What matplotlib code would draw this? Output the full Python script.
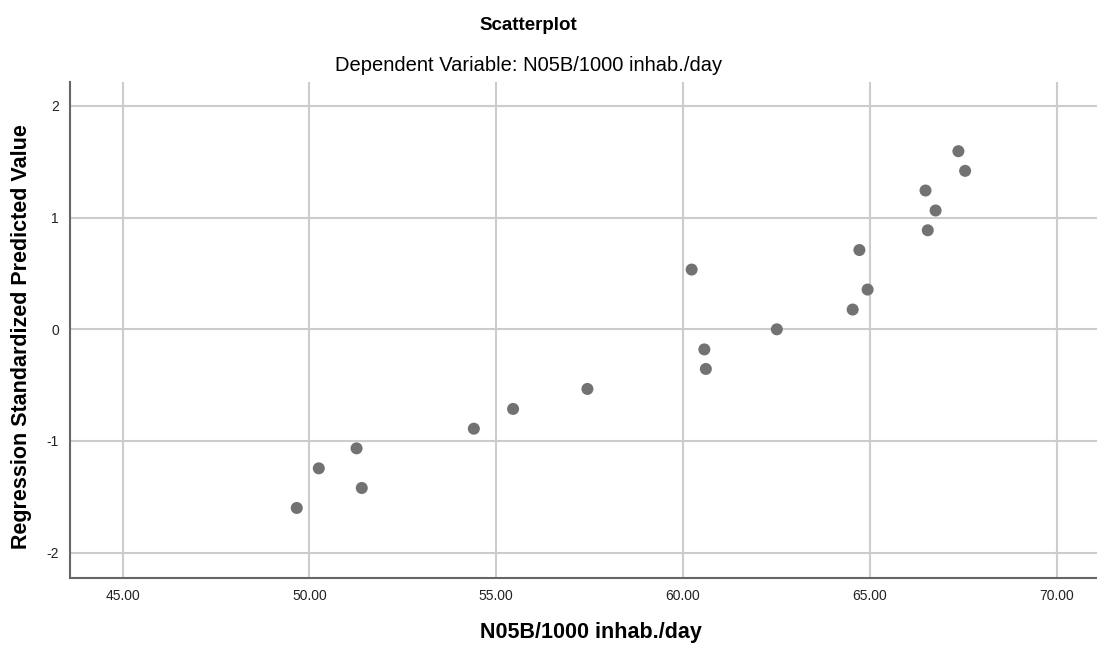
import matplotlib
matplotlib.use("Agg")
import matplotlib.pyplot as plt

plt.rcParams['font.family'] = ['Liberation Sans', 'DejaVu Sans']

# DATA ###############################################################
x_values = [49.66, 50.25, 51.26, 51.40, 54.40, 55.45, 57.44,
            60.23, 60.57, 60.61, 62.51, 64.54, 64.72, 64.94,
            66.49, 66.55, 66.76, 67.37, 67.55]
y_values = [-1.60, -1.245, -1.066, -1.421, -0.890, -0.713, -0.534,
            0.535, -0.18, -0.355, 0.0, 0.177, 0.71, 0.356,
            1.243, 0.887, 1.064, 1.595, 1.419]

x_ticks = [45, 50, 55, 60, 65, 70]
y_ticks = [-2, -1, 0, 1, 2]

# PLOT ###############################################################
fig = plt.figure(figsize=(10.97, 6.45), dpi=100)
ax = fig.add_axes([0.0638, 0.1039, 0.9362, 0.769])

ax.scatter(x_values, y_values, s=75, color='#727272', edgecolors='none', zorder=3)

ax.set_xlim(43.59, 71.08)
ax.set_ylim(-2.227, 2.215)
ax.set_xticks(x_ticks)
ax.set_xticklabels(['{0:.2f}'.format(v) for v in x_ticks])
ax.set_yticks(y_ticks)
ax.set_yticklabels([str(v) for v in y_ticks])
ax.tick_params(length=0, labelsize=10, colors='#222222', pad=8)

ax.grid(True, color='#cccccc', linewidth=1.5, zorder=0)
for side in ['top', 'right']:
    ax.spines[side].set_visible(False)
for side in ['left', 'bottom']:
    ax.spines[side].set_color('#666666')
    ax.spines[side].set_linewidth(1.5)

ax.set_xlabel('N05B/1000 inhab./day', fontsize=15.5, fontweight='bold', va='center')
ax.xaxis.set_label_coords(0.507, -0.109)
ax.set_ylabel('Regression Standardized Predicted Value', fontsize=15.5, fontweight='bold', va='center')
ax.yaxis.set_label_coords(-0.047, 0.486)

fig.text(0.482, 0.961, 'Scatterplot', ha='center', va='center', fontsize=13.5, fontweight='bold')
fig.text(0.482, 0.899, 'Dependent Variable: N05B/1000 inhab./day', ha='center', va='center', fontsize=14.5)

plt.savefig("out.png", dpi=100)
